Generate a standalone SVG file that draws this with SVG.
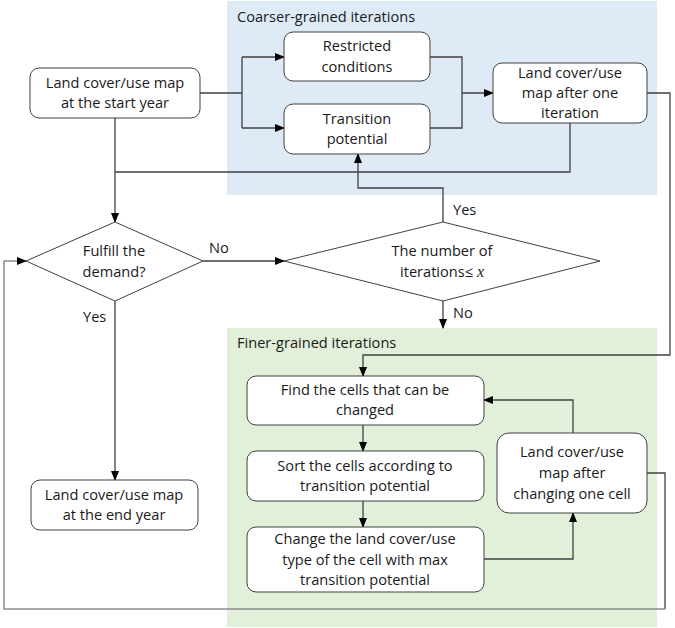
<svg xmlns="http://www.w3.org/2000/svg" width="675" height="628" viewBox="0 0 675 628">
<style>
.t{font-family:"Open Sans","Liberation Sans",sans-serif;font-size:14.6px;fill:#1a1a1a;text-anchor:middle}
.l{font-family:"Open Sans","Liberation Sans",sans-serif;font-size:14.6px;fill:#1a1a1a}
.b{fill:#fff;stroke:#404040;stroke-width:1}
.c{fill:none;stroke:#404040;stroke-width:1.3}
.g{fill:none;stroke:#8c8c8c;stroke-width:1.5}
</style>
<defs>
<marker id="a" markerWidth="10" markerHeight="8" refX="9" refY="4" orient="auto" markerUnits="userSpaceOnUse">
<path d="M0,0 L10,4 L0,8 Z" fill="#000"/>
</marker>
</defs>
<rect x="227" y="1" width="430" height="194" fill="#deebf7"/>
<rect x="227" y="328" width="430" height="299" fill="#e2f0d9"/>
<text class="l" x="237" y="22">Coarser-grained iterations</text>
<text class="l" x="237" y="348">Finer-grained iterations</text>
<g id="connectors">
<path class="c" d="M200,93 H242 M242,57 V128 M242,57 H284" marker-end="url(#a)"/>
<path class="c" d="M242,128 H284" marker-end="url(#a)"/>
<path class="c" d="M430,57 H462 V128 H430 M462,93 H493" marker-end="url(#a)"/>
<path class="c" d="M570,123 V172 H115"/>
<path class="c" d="M115,118 V222" marker-end="url(#a)"/>
<path class="c" d="M443,222 V188 H358 V154" marker-end="url(#a)"/>
<path class="c" d="M203,261 H284" marker-end="url(#a)"/>
<path class="c" d="M443,301 V328" marker-end="url(#a)"/>
<path class="c" d="M115,301 V480" marker-end="url(#a)"/>
<path class="c" d="M647,93 H670 V355 H363 V376" marker-end="url(#a)"/>
<path class="c" d="M363,425 V451" marker-end="url(#a)"/>
<path class="c" d="M363,501 V527" marker-end="url(#a)"/>
<path class="c" d="M484,559 H573 V513" marker-end="url(#a)"/>
<path class="c" d="M573,433 V400 H484" marker-end="url(#a)"/>
<path class="c" d="M647,473 H665 V609"/>
<path class="g" d="M665,609 H4 V261 H26" marker-end="url(#a)"/>
<text class="l" x="209" y="253">No</text>
<text class="l" x="83" y="322">Yes</text>
<text class="l" x="453" y="215">Yes</text>
<text class="l" x="453" y="318">No</text>
</g>
<g id="start"><rect class="b" x="30" y="68" width="170" height="50" rx="9"/><text class="t" x="115" y="88">Land cover/use map</text><text class="t" x="115" y="108">at the start year</text></g>
<g id="restricted"><rect class="b" x="284" y="32" width="146" height="49" rx="9"/><text class="t" x="357" y="51">Restricted</text><text class="t" x="357" y="72">conditions</text></g>
<g id="transition"><rect class="b" x="284" y="104" width="146" height="50" rx="9"/><text class="t" x="357" y="124">Transition</text><text class="t" x="357" y="144">potential</text></g>
<g id="after-one"><rect class="b" x="493" y="63" width="154" height="60" rx="9"/><text class="t" x="570" y="78">Land cover/use</text><text class="t" x="570" y="98">map after one</text><text class="t" x="570" y="118">iteration</text></g>
<g id="fulfill"><polygon class="b" points="115,222 203,261 115,301 26,261"/><text class="t" x="114" y="256">Fulfill the</text><text class="t" x="114" y="277">demand?</text></g>
<g id="number"><polygon class="b" points="443,222 600,261 443,301 284,261"/><text class="t" x="442" y="256">The number of</text><text class="t" x="442" y="277">iterations≤ <tspan font-family="'Liberation Serif',serif" font-style="italic" font-size="16">x</tspan></text></g>
<g id="end"><rect class="b" x="31" y="480" width="167" height="50" rx="9"/><text class="t" x="114" y="500">Land cover/use map</text><text class="t" x="114" y="520">at the end year</text></g>
<g id="find"><rect class="b" x="247" y="376" width="237" height="49" rx="9"/><text class="t" x="365" y="395">Find the cells that can be</text><text class="t" x="365" y="415">changed</text></g>
<g id="sort"><rect class="b" x="247" y="451" width="237" height="50" rx="9"/><text class="t" x="365" y="471">Sort the cells according to</text><text class="t" x="365" y="491">transition potential</text></g>
<g id="change"><rect class="b" x="247" y="527" width="237" height="65" rx="9"/><text class="t" x="365" y="544">Change the land cover/use</text><text class="t" x="365" y="565">type of the cell with max</text><text class="t" x="365" y="585">transition potential</text></g>
<g id="after-change"><rect class="b" x="497" y="433" width="150" height="80" rx="12"/><text class="t" x="572" y="457">Land cover/use</text><text class="t" x="572" y="478">map after</text><text class="t" x="572" y="499">changing one cell</text></g>
</svg>
